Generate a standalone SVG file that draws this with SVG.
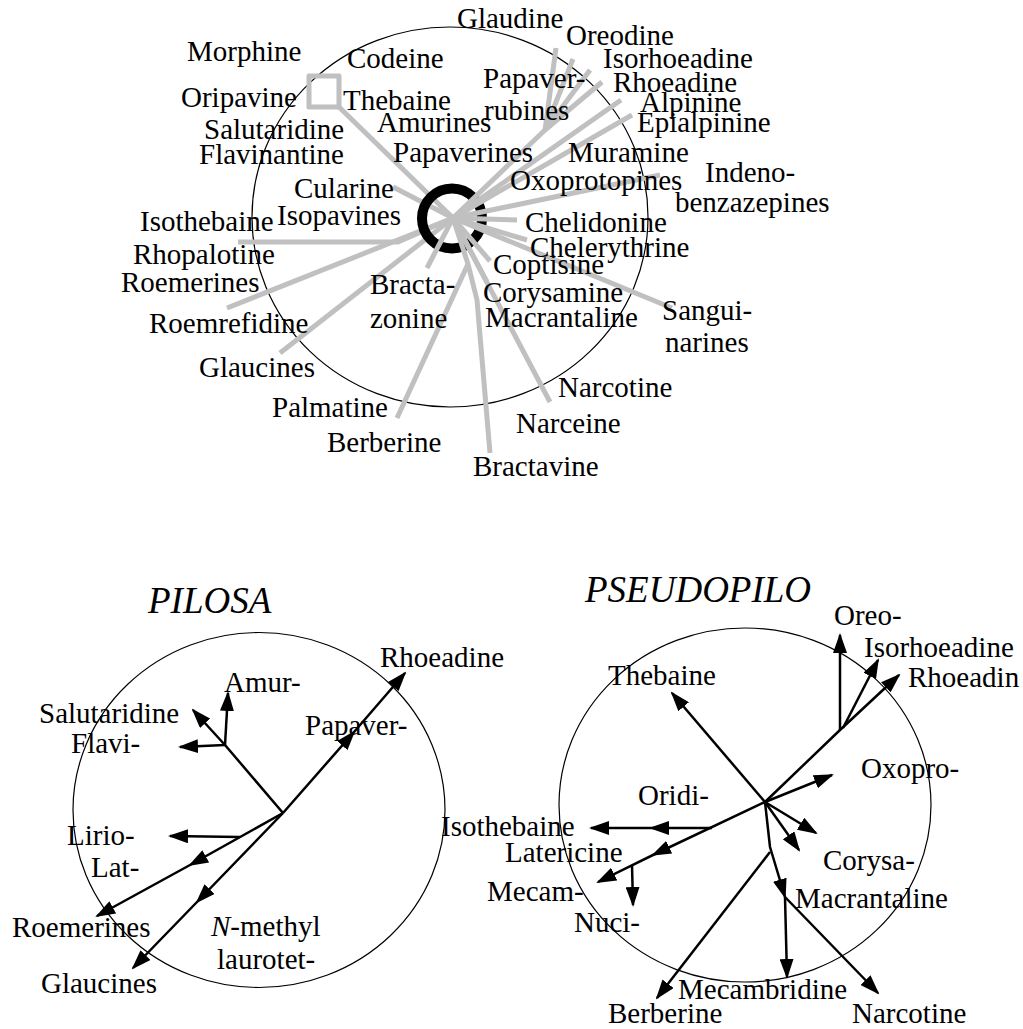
<svg xmlns="http://www.w3.org/2000/svg" width="1023" height="1029" viewBox="0 0 1023 1029">
<style>
text{font-family:"Liberation Serif","Times New Roman",serif;font-size:29px;fill:#000}
.title{font-size:37px;font-style:italic}
.frame{fill:none;stroke:#000;stroke-width:1.2}
.g{fill:none;stroke:#c0c0c0;stroke-width:5;stroke-linejoin:round}
.a{fill:none;stroke:#000;stroke-width:2.5;stroke-linejoin:round}
.ae{marker-end:url(#ah)}
.am{marker-mid:url(#ah);marker-end:url(#ah)}
</style>
<defs>
<marker id="ah" viewBox="0 0 20 14" refX="18" refY="7" markerWidth="20" markerHeight="14" markerUnits="userSpaceOnUse" orient="auto"><path d="M0,0 L20,7 L0,14 z" fill="#000"/></marker>
</defs>
<rect width="1023" height="1029" fill="#fff"/>

<!-- TOP DIAGRAM -->
<g id="top-frame"><ellipse class="frame" cx="450" cy="217" rx="198" ry="190"/></g>
<g id="top-connectors-under">
<polyline class="g" points="339,107 453,218"/>
<polyline class="g" points="393,187 453,218"/>
<polyline class="g" points="238,242 398,242 453,218"/>
<polyline class="g" points="227,308 453,218"/>
<polyline class="g" points="280,353 453,218"/>
</g>
<g id="hub-ring"><circle cx="452" cy="218.5" r="30" fill="none" stroke="#000" stroke-width="10"/></g>
<g id="top-connectors">
<rect class="g" x="309" y="76" width="30" height="31" stroke-width="4"/>
<polyline class="g" points="427,268 453,218"/>
<polyline class="g" points="397,418 468,264"/>
<polyline class="g" points="490,453 477,300 468,264 453,218"/>
<polyline class="g" points="550,402 453,218"/>
<polyline class="g" points="490,261 453,218"/>
<polyline class="g" points="487,282 453,218"/>
<polyline class="g" points="527,240 453,218"/>
<polyline class="g" points="517,220 453,218"/>
<polyline class="g" points="672,308 453,218"/>
<polyline class="g" points="660,175 453,218"/>
<polyline class="g" points="632,115 453,218"/>
<polyline class="g" points="621,100 453,218"/>
<polyline class="g" points="545,130 453,218"/>
<polyline class="g" points="556,48 545,130"/>
<polyline class="g" points="573,59 545,130"/>
<polyline class="g" points="590,70 545,130"/>
<polyline class="g" points="602,82 545,130"/>
</g>
<g id="n-morphine"><text x="187" y="61">Morphine</text></g>
<g id="n-codeine"><text x="347" y="68">Codeine</text></g>
<g id="n-glaudine"><text x="457" y="28">Glaudine</text></g>
<g id="n-oreodine"><text x="566" y="45">Oreodine</text></g>
<g id="n-isorhoeadine"><text x="603" y="68">Isorhoeadine</text></g>
<g id="n-papaverubines"><text x="483" y="88">Papaver-</text><text x="484" y="120">rubines</text></g>
<g id="n-rhoeadine"><text x="613" y="92">Rhoeadine</text></g>
<g id="n-oripavine"><text x="181" y="107">Oripavine</text></g>
<g id="n-thebaine"><text x="343" y="110">Thebaine</text></g>
<g id="n-alpinine"><text x="640" y="112">Alpinine</text></g>
<g id="n-amurines"><text x="377" y="132">Amurines</text></g>
<g id="n-epialpinine"><text x="637" y="132">Epialpinine</text></g>
<g id="n-salutaridine"><text x="204" y="139">Salutaridine</text></g>
<g id="n-muramine"><text x="568" y="162">Muramine</text></g>
<g id="n-papaverines"><text x="393" y="162">Papaverines</text></g>
<g id="n-flavinantine"><text x="199" y="164">Flavinantine</text></g>
<g id="n-indenobenzazepines"><text x="705" y="182">Indeno-</text><text x="675" y="212">benzazepines</text></g>
<g id="n-oxoprotopines"><text x="510" y="190">Oxoprotopines</text></g>
<g id="n-cularine"><text x="294" y="198">Cularine</text></g>
<g id="n-isopavines"><text x="277" y="225">Isopavines</text></g>
<g id="n-isothebaine"><text x="140" y="231">Isothebaine</text></g>
<g id="n-chelidonine"><text x="525" y="232">Chelidonine</text></g>
<g id="n-chelerythrine"><text x="530" y="257">Chelerythrine</text></g>
<g id="n-rhopalotine"><text x="133" y="264">Rhopalotine</text></g>
<g id="n-coptisine"><text x="493" y="274">Coptisine</text></g>
<g id="n-roemerines"><text x="121" y="292">Roemerines</text></g>
<g id="n-bractazonine"><text x="370" y="294">Bracta-</text><text x="370" y="328">zonine</text></g>
<g id="n-corysamine"><text x="483" y="302">Corysamine</text></g>
<g id="n-sanguinarines"><text x="662" y="320">Sangui-</text><text x="665" y="352">narines</text></g>
<g id="n-macrantaline"><text x="485" y="327">Macrantaline</text></g>
<g id="n-roemrefidine"><text x="149" y="333">Roemrefidine</text></g>
<g id="n-glaucines"><text x="199" y="377">Glaucines</text></g>
<g id="n-narcotine"><text x="558" y="397">Narcotine</text></g>
<g id="n-palmatine"><text x="272" y="417">Palmatine</text></g>
<g id="n-narceine"><text x="516" y="433">Narceine</text></g>
<g id="n-berberine"><text x="327" y="452">Berberine</text></g>
<g id="n-bractavine"><text x="473" y="476">Bractavine</text></g>

<!-- PILOSA -->
<g id="pilosa-frame"><ellipse class="frame" cx="259" cy="810" rx="186" ry="177.5"/></g>
<g id="pilosa-connectors">
<polyline class="a am" points="283,813 354,732 405,673"/>
<polyline class="a ae" points="283,813 225,745 193,710"/>
<polyline class="a ae" points="225,745 228,693"/>
<polyline class="a ae" points="225,745 180,747"/>
<polyline class="a ae" points="240,837 170,836"/>
<polyline class="a am" points="283,813 190,865 97,916"/>
<polyline class="a am" points="283,813 197,902 133,968"/>
</g>
<g id="p-title"><text class="title" x="148" y="613">PILOSA</text></g>
<g id="p-rhoeadine"><text x="380" y="667">Rhoeadine</text></g>
<g id="p-amur"><text x="224" y="692">Amur-</text></g>
<g id="p-salutaridine"><text x="39" y="723">Salutaridine</text></g>
<g id="p-papaver"><text x="305" y="735">Papaver-</text></g>
<g id="p-flavi"><text x="71" y="753">Flavi-</text></g>
<g id="p-lirio"><text x="67" y="845">Lirio-</text></g>
<g id="p-lat"><text x="91" y="877">Lat-</text></g>
<g id="p-roemerines"><text x="12" y="937">Roemerines</text></g>
<g id="p-nmethyl"><text x="211" y="936"><tspan font-style="italic">N</tspan>-methyl</text><text x="217" y="969">laurotet-</text></g>
<g id="p-glaucines"><text x="41" y="993">Glaucines</text></g>

<!-- PSEUDOPILO -->
<g id="pseudo-frame"><ellipse class="frame" cx="745" cy="805" rx="186" ry="177"/></g>
<g id="pseudo-connectors">
<polyline class="a ae" points="765,802 672,693"/>
<polyline class="a ae" points="765,802 840,730 899,675"/>
<polyline class="a ae" points="840,730 840,635"/>
<polyline class="a ae" points="843,728 878,660"/>
<polyline class="a ae" points="765,802 832,775"/>
<polyline class="a ae" points="765,802 816,833"/>
<polyline class="a ae" points="765,802 799,850"/>
<polyline class="a ae" points="765,802 770,847 785,897"/>
<polyline class="a ae" points="785,897 787,977"/>
<polyline class="a ae" points="785,897 878,993"/>
<polyline class="a ae" points="770,852 657,998"/>
<polyline class="a am" points="765,802 653,855 598,882"/>
<polyline class="a am" points="712,828 651,828 591,828"/>
<polyline class="a ae" points="632,865 633,905"/>
</g>
<g id="s-title"><text class="title" x="585" y="602">PSEUDOPILO</text></g>
<g id="s-oreo"><text x="834" y="625">Oreo-</text></g>
<g id="s-isorhoeadine"><text x="864" y="657">Isorhoeadine</text></g>
<g id="s-thebaine"><text x="608" y="685">Thebaine</text></g>
<g id="s-rhoeadin"><text x="908" y="687">Rhoeadin</text></g>
<g id="s-oxopro"><text x="861" y="778">Oxopro-</text></g>
<g id="s-oridi"><text x="638" y="805">Oridi-</text></g>
<g id="s-isothebaine"><text x="441" y="836">Isothebaine</text></g>
<g id="s-latericine"><text x="505" y="862">Latericine</text></g>
<g id="s-corysa"><text x="823" y="870">Corysa-</text></g>
<g id="s-mecam"><text x="487" y="901">Mecam-</text></g>
<g id="s-macrantaline"><text x="795" y="908">Macrantaline</text></g>
<g id="s-nuci"><text x="574" y="932">Nuci-</text></g>
<g id="s-mecambridine"><text x="678" y="999">Mecambridine</text></g>
<g id="s-berberine"><text x="608" y="1023">Berberine</text></g>
<g id="s-narcotine"><text x="852" y="1023">Narcotine</text></g>
</svg>
